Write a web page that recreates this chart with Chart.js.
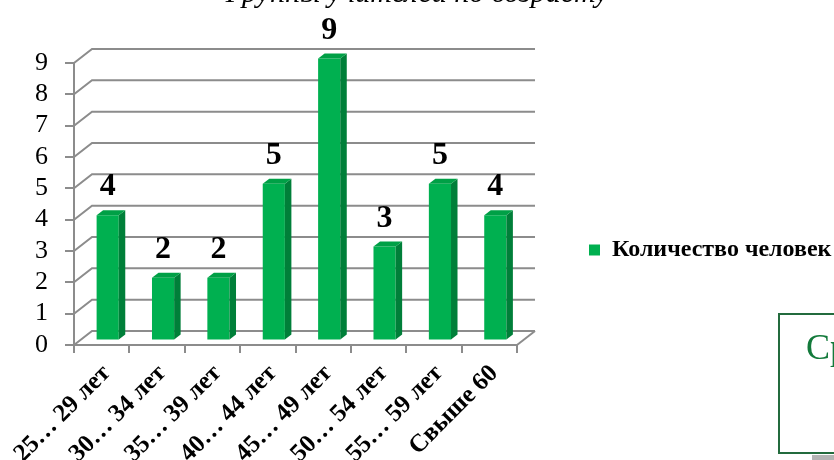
<!DOCTYPE html>
<html lang="ru">
<head>
<meta charset="utf-8">
<title>Группы учителей по возрасту</title>
<script src="https://cdn.jsdelivr.net/npm/chart.js@4/dist/chart.umd.min.js"></script>
<style>
  html, body { margin: 0; padding: 0; background: #fff; }
  body { width: 834px; height: 460px; position: relative; overflow: hidden; }
  #chart { position: absolute; left: 0; top: -30px; }
  .next-box {
    position: absolute; left: 778px; top: 313px; width: 120px; height: 141px;
    box-sizing: border-box; border: 2px solid #236b3d; background: #fff;
  }
  .next-box span {
    position: absolute; left: 26px; top: 14px;
    font: 36px/36px "Liberation Serif", serif; color: #137a3b;
  }
  .next-shadow { position: absolute; left: 812px; top: 455px; width: 30px; height: 6px; background: #b4b4b4; }
</style>
</head>
<body>
<canvas id="chart" width="834" height="490"></canvas>
<div class="next-box"><span>Ср</span></div>
<div class="next-shadow"></div>

<script>
const categories = ['25… 29 лет', '30… 34 лет', '35… 39 лет', '40… 44 лет',
                    '45… 49 лет', '50… 54 лет', '55… 59 лет', 'Свыше 60'];
const teachers = [4, 2, 2, 5, 9, 3, 5, 4];
const seriesName = 'Количество человек';
const yTicks = [0, 1, 2, 3, 4, 5, 6, 7, 8, 9];

const GREEN = '#00b050';
const GREEN_SIDE = '#007f39';
const GREEN_TOP = '#00a046';
const GRID = '#8c8c8c';
const SERIF = '"Liberation Serif", "Times New Roman", serif';

// fake 3d: back wall offset, bar plane shift and bar thickness
const wall = { x: 18, y: -14 };
const shift = { x: 6, y: -4.5 };
const depth = { x: 6.5, y: -5 };

const box3d = {
  id: 'box3d',
  beforeDatasetsDraw(chart) {
    const { ctx, chartArea: a, scales: { y } } = chart;
    ctx.save();
    ctx.strokeStyle = GRID;
    ctx.lineWidth = 2;
    y.ticks.forEach((t, i) => {
      const py = y.getPixelForTick(i);
      ctx.beginPath();
      ctx.moveTo(a.left, py);
      ctx.lineTo(a.left + wall.x, py + wall.y);
      ctx.lineTo(a.right + wall.x, py + wall.y);
      ctx.stroke();
    });
    // right edge of the floor
    ctx.beginPath();
    ctx.moveTo(a.right, a.bottom);
    ctx.lineTo(a.right + wall.x, a.bottom + wall.y);
    ctx.stroke();
    ctx.restore();
  },
  beforeDatasetDraw(chart) {
    chart.ctx.save();
    chart.ctx.translate(shift.x, shift.y);
  },
  afterDatasetDraw(chart, args) {
    const { ctx } = chart;
    const values = chart.data.datasets[args.index].data;
    args.meta.data.forEach((bar, i) => {
      const { x, y, base, width } = bar.getProps(['x', 'y', 'base', 'width'], true);
      const l = x - width / 2;
      const r = x + width / 2;

      ctx.fillStyle = GREEN_SIDE;
      ctx.beginPath();
      ctx.moveTo(r, y);
      ctx.lineTo(r + depth.x, y + depth.y);
      ctx.lineTo(r + depth.x, base + depth.y);
      ctx.lineTo(r, base);
      ctx.closePath();
      ctx.fill();

      ctx.fillStyle = GREEN_TOP;
      ctx.beginPath();
      ctx.moveTo(l, y);
      ctx.lineTo(l + depth.x, y + depth.y);
      ctx.lineTo(r + depth.x, y + depth.y);
      ctx.lineTo(r, y);
      ctx.closePath();
      ctx.fill();

      ctx.fillStyle = '#000';
      ctx.font = 'bold 32px ' + SERIF;
      ctx.textAlign = 'center';
      ctx.textBaseline = 'alphabetic';
      ctx.fillText(String(values[i]), x, y - 20);
    });
    ctx.restore();
  }
};

new Chart(document.getElementById('chart'), {
  type: 'bar',
  data: {
    labels: categories,
    datasets: [{
      label: seriesName,
      data: teachers,
      backgroundColor: GREEN,
      borderWidth: 0,
      categoryPercentage: 1,
      barPercentage: 0.4,
      clip: false
    }]
  },
  options: {
    responsive: false,
    animation: false,
    layout: { padding: 0 },
    scales: {
      x: {
        grid: { drawOnChartArea: false, tickLength: 8, color: GRID, lineWidth: 2, offset: true },
        border: { color: GRID, width: 2 },
        ticks: {
          autoSkip: false, maxRotation: 45, minRotation: 45,
          padding: 6, labelOffset: 5, color: '#000',
          font: { family: SERIF, size: 25, weight: 'bold' }
        },
        afterFit(s) { s.height = 115; s.paddingLeft = 0; s.paddingRight = 0; }
      },
      y: {
        min: 0, max: 9,
        afterBuildTicks(s) { s.ticks = yTicks.map(v => ({ value: v })); },
        grid: { drawOnChartArea: false, tickLength: 9, color: GRID, lineWidth: 2 },
        border: { color: GRID, width: 2 },
        ticks: { autoSkip: false, padding: 17, color: '#000', font: { family: SERIF, size: 26 } },
        afterFit(s) { s.width = 74; }
      }
    },
    plugins: {
      title: {
        display: true,
        text: 'Группы учителей по возрасту',
        color: '#000',
        font: { family: SERIF, size: 30, style: 'italic', weight: 'normal' },
        padding: { top: 6, bottom: 51 }
      },
      legend: {
        position: 'right',
        maxWidth: 317,
        title: { display: true, text: '', padding: { top: 0, bottom: 55.6 } },
        labels: {
          padding: 72, boxWidth: 11, boxHeight: 11, color: '#000',
          font: { family: SERIF, size: 24, weight: 'bold' }
        }
      },
      tooltip: { enabled: false }
    }
  },
  plugins: [box3d]
});
</script>
</body>
</html>
